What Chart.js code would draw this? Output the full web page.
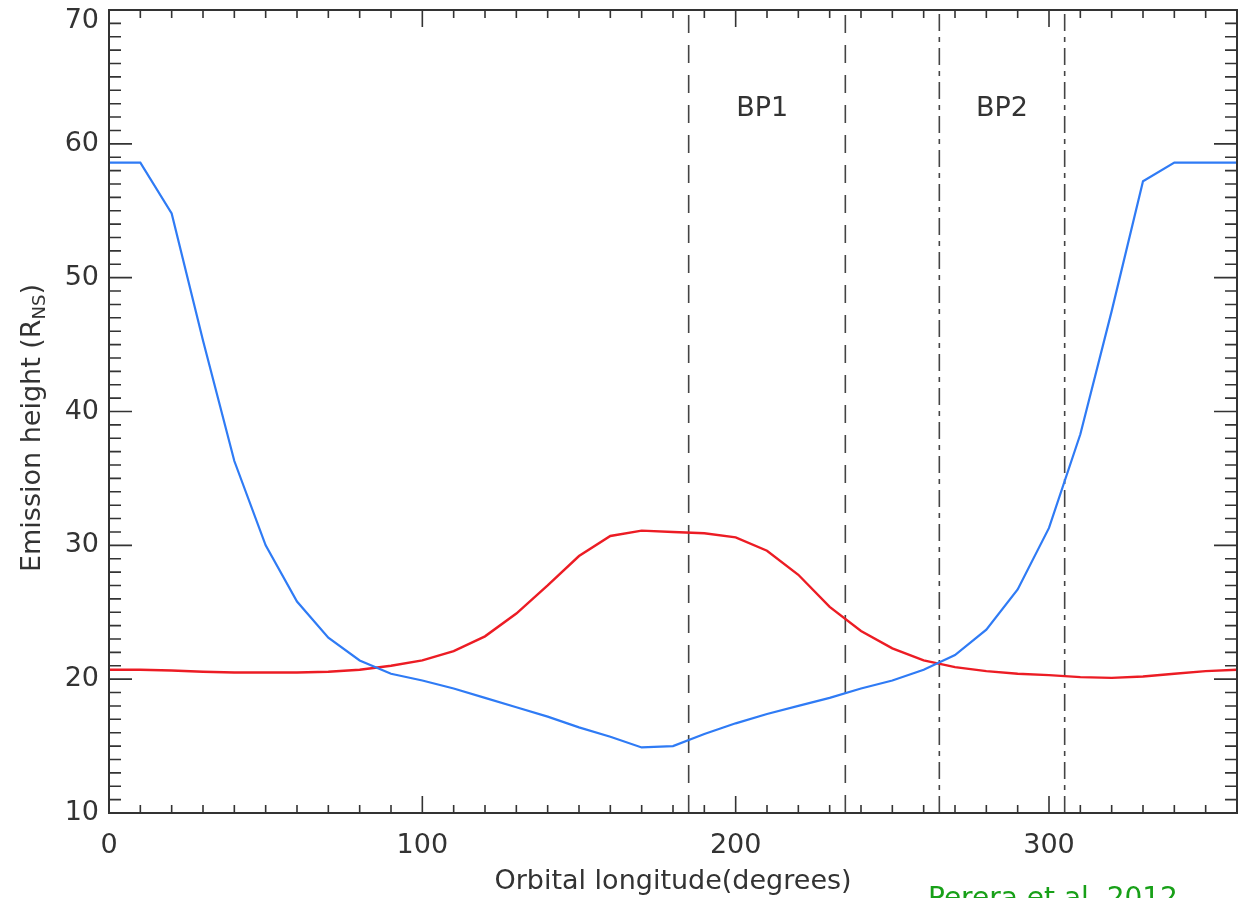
<!DOCTYPE html>
<html>
<head>
<meta charset="utf-8">
<script src="https://cdn.jsdelivr.net/npm/chart.js@4"></script>
<style>
  html, body { margin: 0; padding: 0; background: #fff; overflow: hidden; }
  #wrap { position: relative; width: 1247px; height: 898px; overflow: hidden; }
  #credit { position: absolute; left: 928px; top: 884px; font-family: "DejaVu Sans"; font-size: 28px; line-height: 1; color: #18a018; white-space: nowrap; }
</style>
</head>
<body>
<div id="wrap">
  <canvas id="chart" width="1247" height="898"></canvas>
  <div id="credit">Perera et al. 2012</div>
</div>
<script>
// orbital longitude (degrees)
const longitude = [0, 10, 20, 30, 40, 50, 60, 70, 80, 90, 100, 110, 120, 130, 140, 150, 160, 170, 180,
    190, 200, 210, 220, 230, 240, 250, 260, 270, 280, 290, 300, 310, 320, 330, 340, 350, 360];
// emission height (R_NS)
const heightBlue = [58.6, 58.6, 54.8, 45.3, 36.3, 30.0, 25.8, 23.1, 21.4, 20.4, 19.9, 19.3, 18.6, 17.9, 17.2, 16.4, 15.7, 14.9, 15.0,
    15.9, 16.7, 17.4, 18.0, 18.6, 19.3, 19.9, 20.7, 21.8, 23.7, 26.7, 31.3, 38.3, 47.5, 57.2, 58.6, 58.6, 58.6];
const heightRed = [20.7, 20.7, 20.65, 20.55, 20.5, 20.5, 20.5, 20.55, 20.7, 21.0, 21.4, 22.1, 23.2, 24.9, 27.0, 29.2, 30.7, 31.1, 31.0,
    30.9, 30.6, 29.6, 27.8, 25.4, 23.6, 22.3, 21.4, 20.9, 20.6, 20.4, 20.3, 20.15, 20.1, 20.2, 20.4, 20.6, 20.7];

// BP1 / BP2 boundaries
const bandEdges = [185, 235, 265, 305];
const bandStyles = ["dash", "dash", "dashdot", "dashdot"];
const bandLabels = ["BP1", "BP2"];
const bandLabelX = [208.5, 285];
const bandLabelY = 62.6;

const yMin = 10, yMax = 70, xMin = 0, xMax = 360;

const ink = "#333";
const dashes = { dash: [18, 12], dashdot: [17, 6, 5, 6] };

Chart.defaults.font.family = "'DejaVu Sans', sans-serif";

const edgeSets = bandEdges.map((v, i) => ({
    data: [{ x: v, y: yMin }, { x: v, y: yMax }],
    borderColor: "#444",
    borderWidth: 1.6,
    borderDash: dashes[bandStyles[i]],
    pointRadius: 0,
}));

// inward ticks on all four sides plus frame
const frame = {
    id: "frame",
    afterDraw(chart) {
        const { ctx, chartArea: a, scales: { x, y } } = chart;
        ctx.save();
        ctx.strokeStyle = ink;
        ctx.lineWidth = 1.6;
        ctx.beginPath();
        for (let v = yMin; v <= yMax; v += 1) {
            const py = y.getPixelForValue(v);
            const len = v % 10 === 0 ? 23 : 12;
            ctx.moveTo(a.left, py); ctx.lineTo(a.left + len, py);
            ctx.moveTo(a.right, py); ctx.lineTo(a.right - len, py);
        }
        for (let v = xMin; v <= xMax; v += 10) {
            const px = x.getPixelForValue(v);
            const len = v % 100 === 0 ? 17 : 8;
            ctx.moveTo(px, a.bottom); ctx.lineTo(px, a.bottom - len);
            ctx.moveTo(px, a.top); ctx.lineTo(px, a.top + len);
        }
        ctx.stroke();
        ctx.lineWidth = 2;
        ctx.strokeRect(a.left, a.top, a.right - a.left, a.bottom - a.top);

        ctx.fillStyle = ink;
        ctx.font = "27px 'DejaVu Sans'";
        ctx.textBaseline = "middle";

        // top y label, pushed inside the canvas as in the original
        ctx.textAlign = "right";
        ctx.fillText(String(yMax), a.left - 10, y.getPixelForValue(yMax) + 11);

        // band labels
        ctx.textAlign = "center";
        bandLabels.forEach((t, i) => {
            ctx.fillText(t, x.getPixelForValue(bandLabelX[i]), y.getPixelForValue(bandLabelY));
        });

        // y title with subscript
        const main = "Emission height (R", sub = "NS", end = ")";
        ctx.translate(33, 428);
        ctx.rotate(-Math.PI / 2);
        ctx.textAlign = "left";
        const w1 = ctx.measureText(main).width, w3 = ctx.measureText(end).width;
        ctx.font = "18px 'DejaVu Sans'";
        const w2 = ctx.measureText(sub).width;
        const s = -(w1 + w2 + w3) / 2;
        ctx.font = "27px 'DejaVu Sans'";
        ctx.fillText(main, s, 0);
        ctx.font = "18px 'DejaVu Sans'";
        ctx.fillText(sub, s + w1, 7);
        ctx.font = "27px 'DejaVu Sans'";
        ctx.fillText(end, s + w1 + w2, 0);
        ctx.restore();
    }
};

new Chart(document.getElementById("chart"), {
    type: "line",
    data: {
        datasets: [{
            data: longitude.map((v, i) => ({ x: v, y: heightBlue[i] })),
            borderColor: "#2f7bf5",
            borderWidth: 2.2,
            pointRadius: 0,
            tension: 0,
        }, {
            data: longitude.map((v, i) => ({ x: v, y: heightRed[i] })),
            borderColor: "#ec1c24",
            borderWidth: 2.4,
            pointRadius: 0,
            tension: 0,
        }, ...edgeSets]
    },
    options: {
        responsive: false,
        animation: false,
        devicePixelRatio: 1,
        layout: { padding: { top: 10, right: 10, left: 0, bottom: 0 } },
        plugins: { legend: { display: false }, tooltip: { enabled: false } },
        scales: {
            x: {
                type: "linear",
                min: xMin,
                max: xMax,
                afterFit: s => { s.height = 85; s.paddingLeft = 0; s.paddingRight = 0; },
                ticks: { stepSize: 100, includeBounds: false, padding: 17, color: ink, font: { size: 27 }, maxRotation: 0 },
                grid: { drawOnChartArea: false, drawTicks: false },
                border: { display: false },
                title: { display: true, text: "Orbital longitude(degrees)", color: ink, font: { size: 27 }, padding: 0 },
            },
            y: {
                min: yMin,
                max: yMax,
                afterFit: s => { s.width = 109; s.paddingTop = 0; s.paddingBottom = 0; },
                ticks: {
                    stepSize: 10, padding: 10, color: ink, font: { size: 27 },
                    callback: v => (v === yMax ? "" : v),
                },
                grid: { drawOnChartArea: false, drawTicks: false },
                border: { display: false },
            },
        },
    },
    plugins: [frame],
});
</script>
</body>
</html>
